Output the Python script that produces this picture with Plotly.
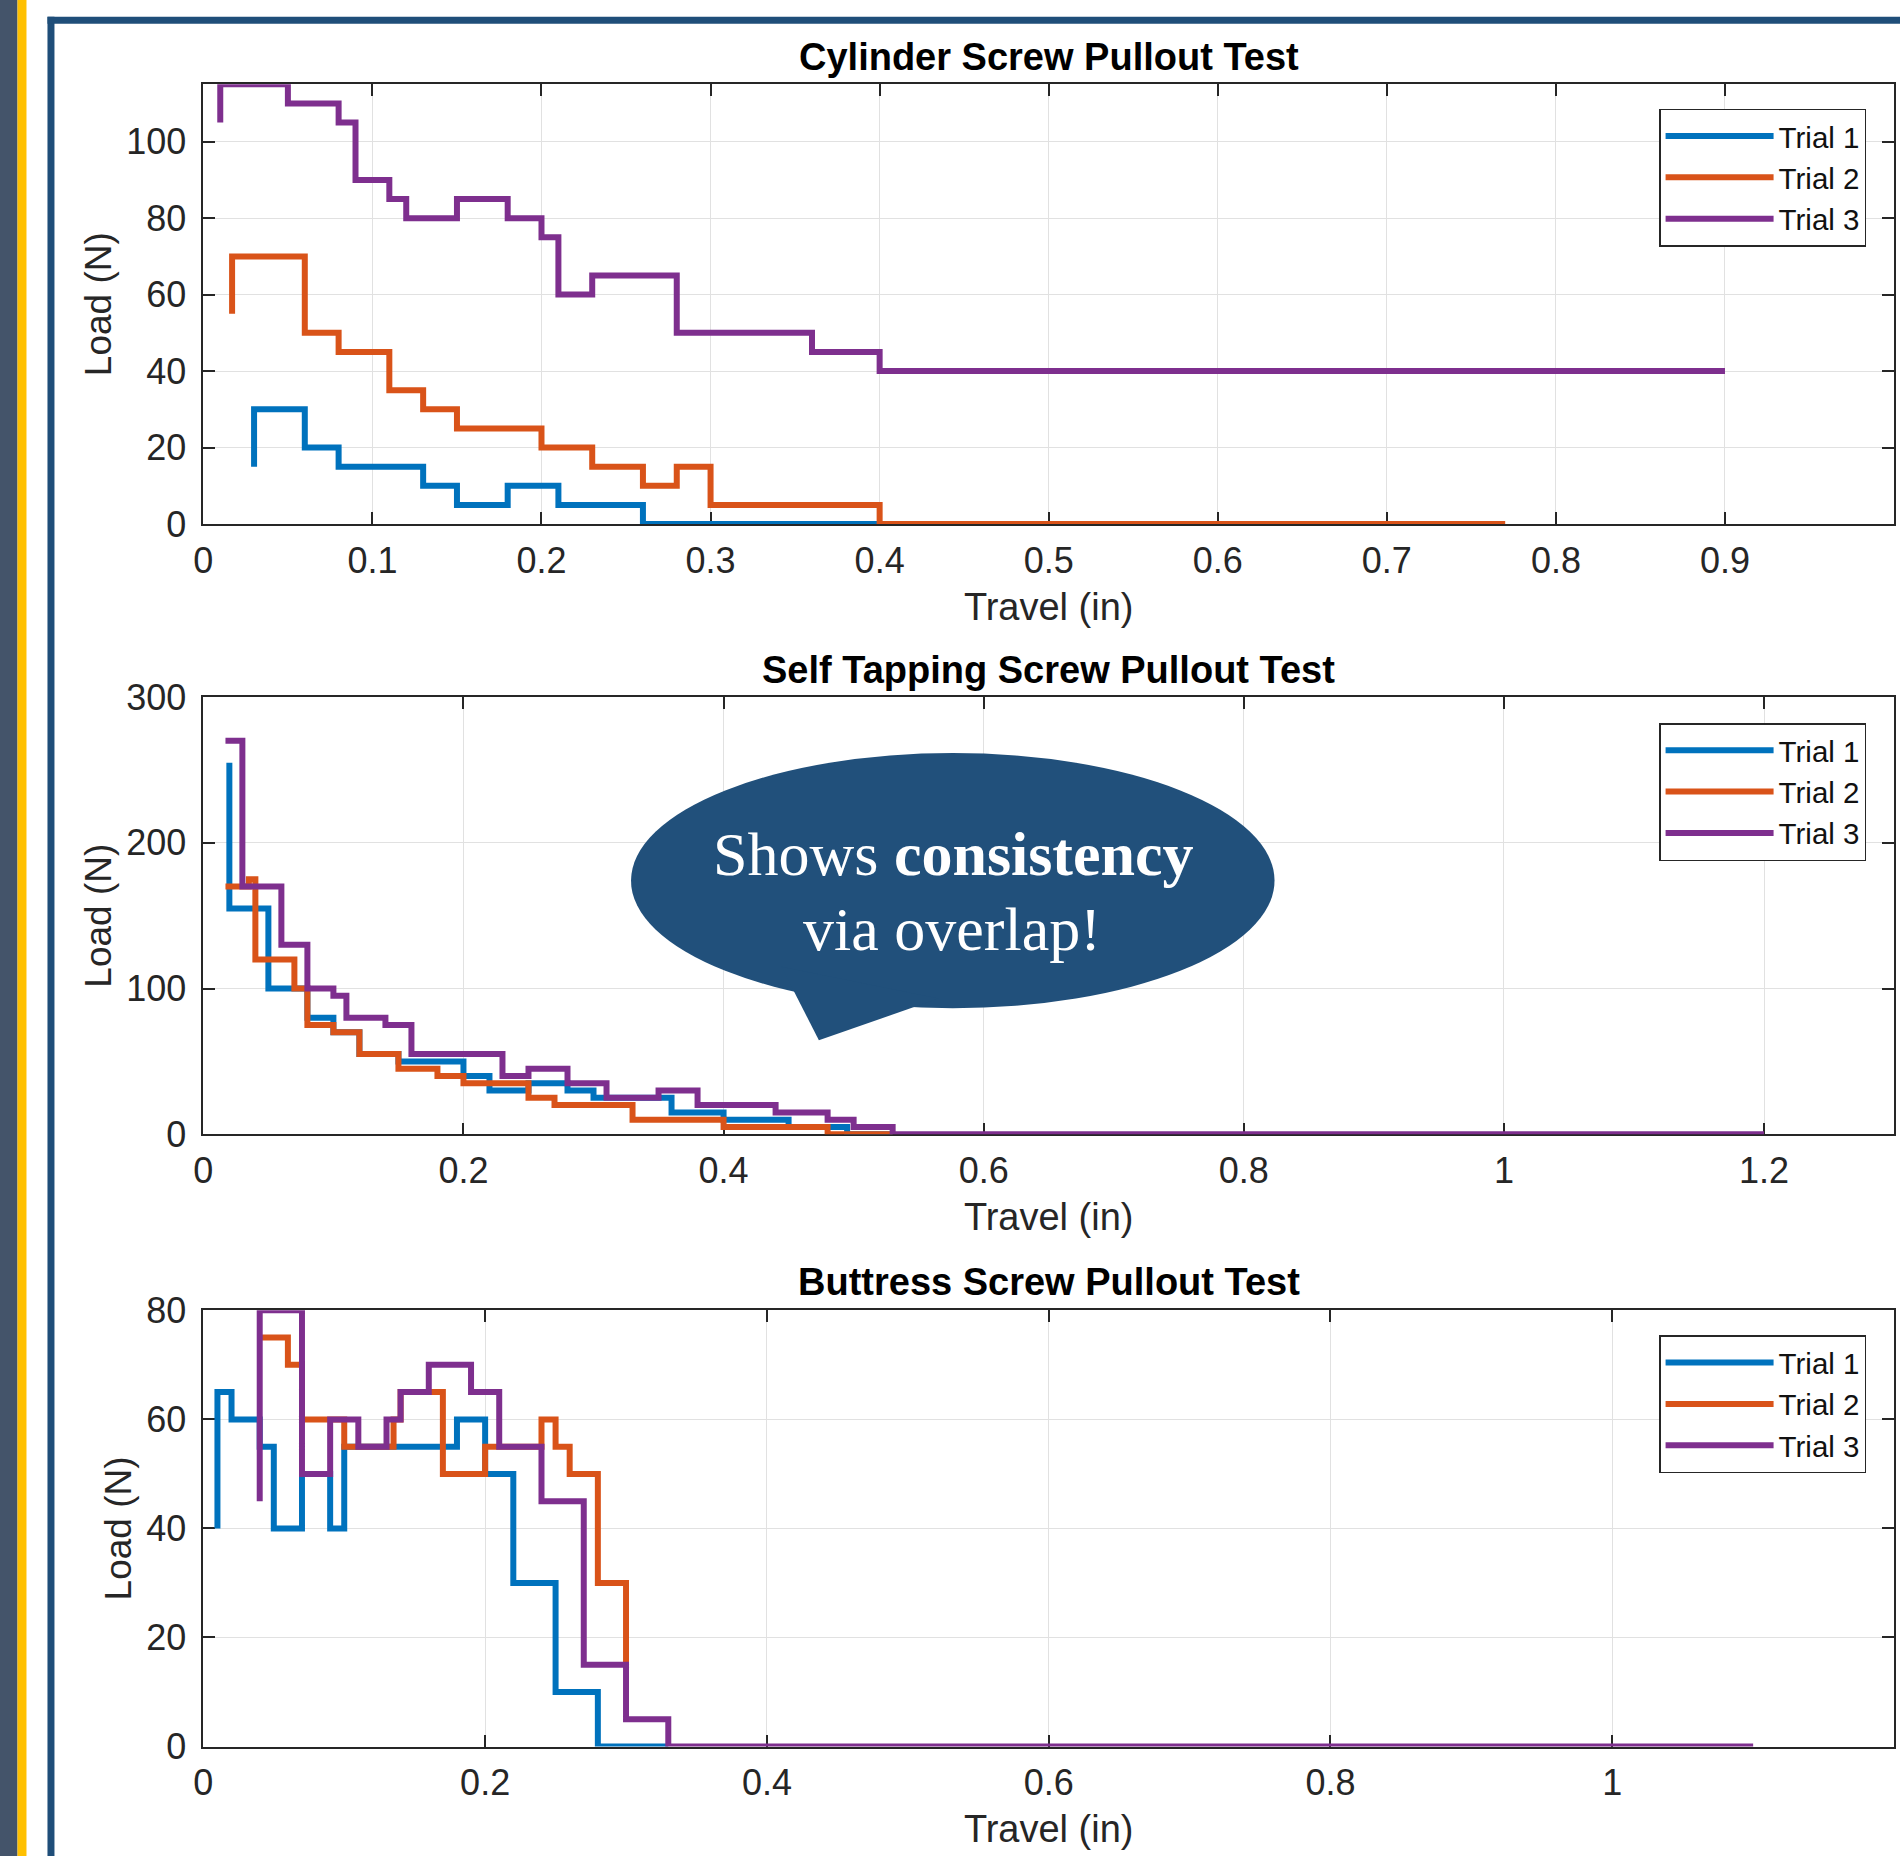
import plotly.graph_objects as go

W, H = 1900, 1856

# ---------------- data ----------------
trial_names = ["Trial 1", "Trial 2", "Trial 3"]

# Cylinder Screw Pullout Test
cyl_t1_x = [0.03, 0.03, 0.06, 0.08, 0.13, 0.15, 0.18, 0.21, 0.26, 0.40]
cyl_t1_y = [15, 30, 20, 15, 10, 5, 10, 5, 0, 0]
cyl_t2_x = [0.017, 0.017, 0.06, 0.08, 0.11, 0.13, 0.15, 0.20, 0.23, 0.26, 0.28, 0.30, 0.40, 0.77]
cyl_t2_y = [55, 70, 50, 45, 35, 30, 25, 20, 15, 10, 15, 5, 0, 0]
cyl_t3_x = [0.01, 0.01, 0.05, 0.08, 0.09, 0.11, 0.12, 0.15, 0.18, 0.20, 0.21, 0.23, 0.28, 0.36, 0.40, 0.90]
cyl_t3_y = [105, 115, 110, 105, 90, 85, 80, 85, 80, 75, 60, 65, 50, 45, 40, 40]

# Self Tapping Screw Pullout Test
st_t1_x = [0.02, 0.02, 0.05, 0.08, 0.10, 0.12, 0.15, 0.20, 0.22, 0.25, 0.28, 0.30, 0.36, 0.40, 0.45, 0.495, 0.53]
st_t1_y = [255, 155, 100, 80, 70, 55, 50, 40, 30, 35, 30, 25, 15, 10, 5, 0, 0]
st_t2_x = [0.017, 0.035, 0.04, 0.07, 0.08, 0.10, 0.12, 0.15, 0.18, 0.20, 0.25, 0.27, 0.33, 0.40, 0.48, 0.53]
st_t2_y = [170, 175, 120, 100, 75, 70, 55, 45, 40, 35, 25, 20, 10, 5, 0, 0]
st_t3_x = [0.017, 0.03, 0.06, 0.08, 0.10, 0.11, 0.14, 0.16, 0.23, 0.25, 0.28, 0.31, 0.35, 0.38, 0.44, 0.48, 0.50, 0.53, 1.20]
st_t3_y = [270, 170, 130, 100, 95, 80, 75, 55, 40, 45, 35, 25, 30, 20, 15, 10, 5, 0, 0]

# Buttress Screw Pullout Test
bt_t1_x = [0.01, 0.01, 0.02, 0.04, 0.05, 0.07, 0.09, 0.10, 0.18, 0.20, 0.22, 0.25, 0.28, 0.33]
bt_t1_y = [40, 65, 60, 55, 40, 50, 40, 55, 60, 50, 30, 10, 0, 0]
bt_t2_x = [0.04, 0.06, 0.07, 0.10, 0.135, 0.14, 0.17, 0.20, 0.24, 0.25, 0.26, 0.28, 0.30]
bt_t2_y = [75, 70, 60, 55, 60, 65, 50, 55, 60, 55, 50, 30, 15]
bt_t3_x = [0.04, 0.04, 0.07, 0.09, 0.11, 0.13, 0.14, 0.16, 0.19, 0.21, 0.24, 0.27, 0.30, 0.33, 1.10]
bt_t3_y = [45, 80, 50, 60, 55, 60, 65, 70, 65, 55, 45, 15, 5, 0, 0]

panel_titles = ["Cylinder Screw Pullout Test", "Self Tapping Screw Pullout Test",
                "Buttress Screw Pullout Test"]
x_label = "Travel (in)"
y_label = "Load (N)"
callout_line1 = "Shows <b>consistency</b>"
callout_line2 = "via overlap!"

# ---------------- styling / layout ----------------
COLORS = ["#0072BD", "#D95319", "#7E2F8E"]
AXC = "#262626"
GRID = "#E1E1E1"
SANS = "Liberation Sans, Arial, Helvetica, sans-serif"
SERIF = "Liberation Serif, Times New Roman, serif"
SLATE = "#44546A"
GOLD = "#FFC000"
NAVY = "#1F4E79"
BUBBLE = "#21507B"

# the captured picture is offset/scaled slightly relative to the page; place
# layout items so that they land where the reference has them
OX, SX = 8.5, 0.9955
OY, SY = 18.2, 0.9775


def px(x):
    return ((x - OX) / SX) / W


def py(y):
    return 1 - ((y - OY) / SY) / H


panels = [
    dict(series=[(cyl_t1_x, cyl_t1_y), (cyl_t2_x, cyl_t2_y), (cyl_t3_x, cyl_t3_y)],
         xr=[0, 1], xd=0.1, yr=[0, 115], yd=20, top=82.5, bottom=522, title_y=55, leg_top=107),
    dict(series=[(st_t1_x, st_t1_y), (st_t2_x, st_t2_y), (st_t3_x, st_t3_y)],
         xr=[0, 1.3], xd=0.2, yr=[0, 300], yd=100, top=695, bottom=1132, title_y=668, leg_top=721),
    dict(series=[(bt_t1_x, bt_t1_y), (bt_t2_x, bt_t2_y), (bt_t3_x, bt_t3_y)],
         xr=[0, 1.2], xd=0.2, yr=[0, 80], yd=20, top=1308, bottom=1744, title_y=1280, leg_top=1333),
]

X_LEFT, X_RIGHT = 202, 1894

fig = go.Figure()
layout = dict(
    width=W, height=H, margin=dict(l=0, r=0, t=0, b=0),
    paper_bgcolor="white", plot_bgcolor="white",
    font=dict(family=SANS, color=AXC),
    showlegend=True,
)
annotations = []

for i, p in enumerate(panels):
    k = "" if i == 0 else str(i + 1)
    leg = "legend" + k
    for j, (xs, ys) in enumerate(p["series"]):
        fig.add_trace(go.Scatter(
            x=xs, y=ys, mode="lines", name=trial_names[j],
            line=dict(color=COLORS[j], width=6, shape="hv"),
            xaxis="x" + k, yaxis="y" + k, legend=leg, cliponaxis=False,
            hoverinfo="x+y+name",
        ))
    common = dict(
        showgrid=True, gridcolor=GRID, gridwidth=1, zeroline=False,
        showline=True, linecolor=AXC, linewidth=1.5, mirror="ticks",
        ticks="inside", ticklen=12, tickwidth=1.5, tickcolor=AXC,
        tickfont=dict(family=SANS, size=36, color=AXC), layer="below traces",
    )
    layout["xaxis" + k] = dict(
        common, domain=[px(X_LEFT), px(X_RIGHT)], range=p["xr"], dtick=p["xd"], tick0=0,
        anchor="y" + k, ticklabelstandoff=4,
        title=dict(text=x_label, font=dict(family=SANS, size=38, color=AXC), standoff=13),
    )
    layout["yaxis" + k] = dict(
        common, domain=[py(p["bottom"]), py(p["top"])], range=p["yr"], dtick=p["yd"], tick0=0,
        anchor="x" + k, ticklabelstandoff=8,
        title=dict(text=y_label, font=dict(family=SANS, size=37, color=AXC), standoff=3),
    )
    layout[leg] = dict(
        x=px(1866), xanchor="right", y=py(p["leg_top"]), yanchor="top",
        bgcolor="white", bordercolor=AXC, borderwidth=1.5,
        font=dict(family=SANS, size=29.5, color="#111111"),
        itemwidth=108, tracegroupgap=0,
    )
    annotations.append(dict(
        xref="paper", yref="paper", x=px((X_LEFT + X_RIGHT) / 2), y=py(p["title_y"]),
        xanchor="center", yanchor="middle", showarrow=False,
        text="<b>" + panel_titles[i] + "</b>",
        font=dict(family=SANS, size=38, color="#000000"),
    ))

# callout text
annotations.append(dict(xref="paper", yref="paper", x=px(953), y=py(852), xanchor="center",
                        yanchor="middle", showarrow=False, text=callout_line1,
                        font=dict(family=SERIF, size=62, color="white")))
annotations.append(dict(xref="paper", yref="paper", x=px(951), y=py(927), xanchor="center",
                        yanchor="middle", showarrow=False, text=callout_line2,
                        font=dict(family=SERIF, size=62, color="white")))


def rect(x0, y0, x1, y1, color, layer="below"):
    return dict(type="rect", xref="paper", yref="paper", x0=px(x0), x1=px(x1),
                y0=py(y1), y1=py(y0), fillcolor=color, line=dict(width=0), layer=layer)


tail_pts = [(780.5, 964.5), (818, 1038), (937.6, 996.4)]
tail_path = "M " + " L ".join(f"{px(a):.5f},{py(b):.5f}" for a, b in tail_pts) + " Z"

shapes = [
    rect(-20, -20, 16, H + 40, SLATE),
    rect(16, -20, 25, H + 40, GOLD),
    rect(46, 15, 53, H + 40, NAVY),
    rect(46, 15, W + 40, 22, NAVY),
    dict(type="circle", xref="paper", yref="paper", x0=px(630), x1=px(1274),
         y0=py(1006), y1=py(751), fillcolor=BUBBLE, line=dict(width=0), layer="above"),
    dict(type="path", xref="paper", yref="paper", path=tail_path, fillcolor=BUBBLE,
         line=dict(width=0), layer="above"),
]

layout["annotations"] = annotations
layout["shapes"] = shapes
fig.update_layout(**layout)

page_js = (
    "var de=document.documentElement, b=document.body;"
    "de.style.margin='0';de.style.padding='0';de.style.overflow='hidden';"
    "b.style.margin='0';b.style.padding='0';b.style.overflow='hidden';"
)

fig.write_html("out.html", config={"displayModeBar": False}, post_script=page_js)
